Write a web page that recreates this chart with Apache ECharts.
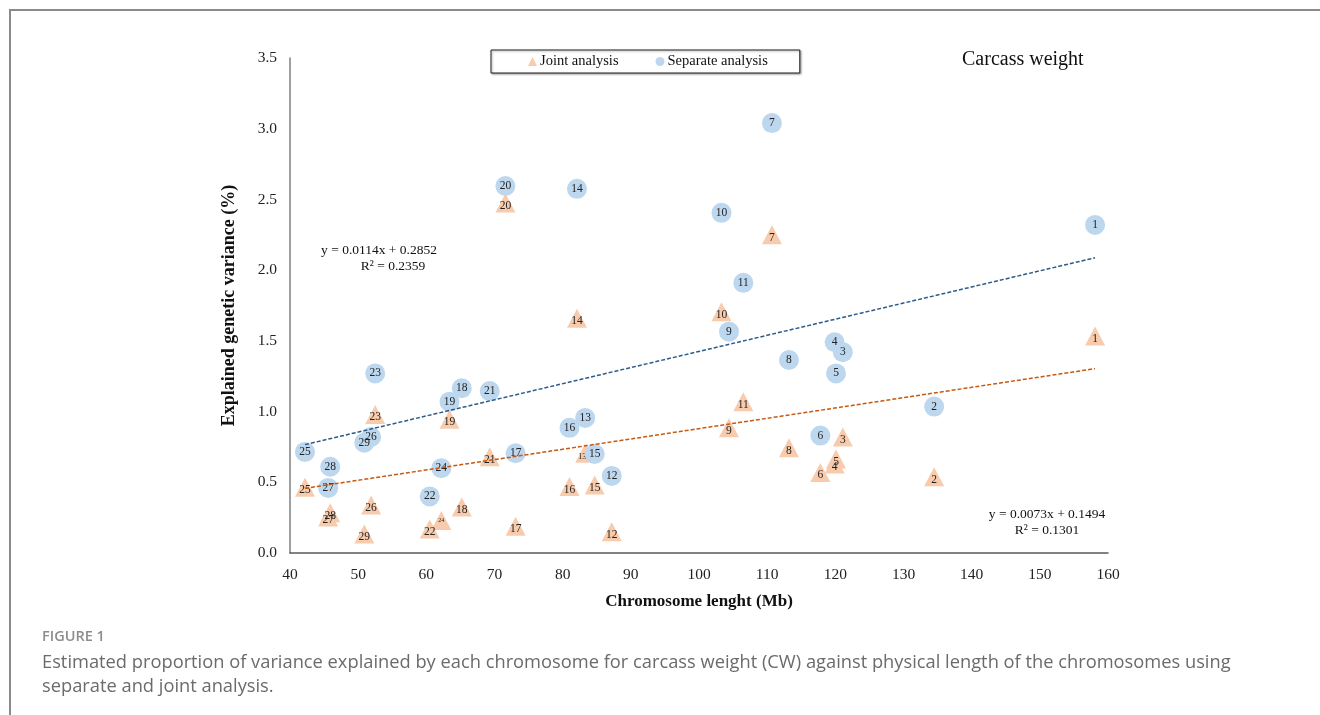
<!DOCTYPE html>
<html>
<head>
<meta charset="utf-8">
<style>
html,body{margin:0;padding:0;background:#fff;}
#chart{width:1320px;height:715px;}
</style>
<script src="https://cdn.jsdelivr.net/npm/echarts@6/dist/echarts.min.js"></script>
</head>
<body>
<div id="chart"></div>
<script>
// ---- data ----
const chromosomes = [1,2,3,4,5,6,7,8,9,10,11,12,13,14,15,16,17,18,19,20,21,22,23,24,25,26,27,28,29];
const lengthMb = [158.1,134.5,121.1,119.9,120.1,117.8,110.7,113.2,104.4,103.3,106.5,87.2,83.3,82.1,84.7,81.0,73.1,65.2,63.4,71.6,69.3,60.5,52.5,62.2,42.2,51.9,45.6,45.9,50.9];
const separateVar = [2.32,1.035,1.42,1.49,1.27,0.83,3.04,1.365,1.565,2.405,1.91,0.545,0.955,2.575,0.70,0.885,0.705,1.165,1.07,2.595,1.145,0.40,1.27,0.60,0.715,0.82,0.46,0.61,0.78];
const jointVar = [1.535,0.54,0.82,0.63,0.665,0.57,2.25,0.745,0.885,1.705,1.07,0.15,0.705,1.66,0.48,0.47,0.19,0.325,0.945,2.475,0.68,0.17,0.98,0.23,0.465,0.34,0.255,0.285,0.135];
const separateFit = {slope: 0.0114, intercept: 0.2852, r2: 0.2359};
const jointFit = {slope: 0.0073, intercept: 0.1494, r2: 0.1301};
const xTicks = [40,50,60,70,80,90,100,110,120,130,140,150,160];
const yTicks = [0.0,0.5,1.0,1.5,2.0,2.5,3.0,3.5];

// ---- build ----
const SERIF = '"Liberation Serif","DejaVu Serif",serif';
const jointLabelStyle = {13: {fontSize: 8, offset:[-3,4]}, 24: {fontSize: 6, offset:[0,0]}};
const sepData = chromosomes.map((c,i)=>({value:[lengthMb[i], separateVar[i]], name:String(c)}));
const jointData = chromosomes.map((c,i)=>{
  const d = {value:[lengthMb[i], jointVar[i]], name:String(c)};
  if (jointLabelStyle[c]) d.label = jointLabelStyle[c];
  return d;
});
const xMin = Math.min(...lengthMb), xMax = Math.max(...lengthMb);
const fitLine = f => [[xMin, f.slope*xMin + f.intercept],[xMax, f.slope*xMax + f.intercept]];

const chart = echarts.init(document.getElementById('chart'), null, {renderer:'canvas'});
chart.setOption({
  animation:false,
  backgroundColor:'#fff',
  grid:{left:290, right:212, top:58, bottom:162, containLabel:false},
  xAxis:{
    type:'value', min:xTicks[0], max:xTicks[xTicks.length-1], interval:10,
    axisLine:{show:true, lineStyle:{color:'#595959', width:1.5}},
    axisTick:{show:false},
    splitLine:{show:false},
    axisLabel:{color:'#222', fontFamily:SERIF, fontSize:15.5, margin:14},
    name:'Chromosome lenght (Mb)', nameLocation:'middle', nameGap:40,
    nameTextStyle:{fontFamily:SERIF, fontWeight:'bold', fontSize:17, color:'#111'}
  },
  yAxis:{
    type:'value', min:yTicks[0], max:yTicks[yTicks.length-1], interval:0.5,
    axisLine:{show:true, lineStyle:{color:'#7f7f7f', width:1.5}},
    axisTick:{show:false},
    splitLine:{show:false},
    axisLabel:{color:'#222', fontFamily:SERIF, fontSize:15.5, margin:13, formatter:v=>v.toFixed(1)},
    name:'Explained genetic variance (%)', nameLocation:'middle', nameGap:52,
    nameTextStyle:{fontFamily:SERIF, fontWeight:'bold', fontSize:18, color:'#111'}
  },
  legend:{
    left:491, top:50,
    data:[{name:'Joint analysis', icon:'triangle'},{name:'Separate analysis', icon:'circle'}],
    itemWidth:9, itemHeight:9, itemGap:37,
    padding:[4,32,4,37],
    borderColor:'#222', borderWidth:1,
    shadowColor:'rgba(0,0,0,0.35)', shadowBlur:2, shadowOffsetX:1, shadowOffsetY:1,
    backgroundColor:'#fff',
    textStyle:{fontFamily:SERIF, fontSize:14.5, color:'#111', padding:[0,0,0,-2]}
  },
  graphic:[
    {type:'rect', x:10, y:10, shape:{x:0,y:0,width:1400,height:800}, style:{fill:'none', stroke:'#8a8a8a', lineWidth:2}, silent:true, z:-10},
    {type:'text', left:962, top:50, style:{text:'Carcass weight', font:'20px '+SERIF, fill:'#111'}},
    {type:'text', x:379, y:250, style:{text:'y = '+separateFit.slope+'x + '+separateFit.intercept, font:'13.5px '+SERIF, fill:'#111', align:'center', verticalAlign:'middle'}},
    {type:'text', x:393, y:266, style:{text:'R² = '+separateFit.r2, font:'13.5px '+SERIF, fill:'#111', align:'center', verticalAlign:'middle'}},
    {type:'text', x:1047, y:514, style:{text:'y = '+jointFit.slope+'x + '+jointFit.intercept, font:'13.5px '+SERIF, fill:'#111', align:'center', verticalAlign:'middle'}},
    {type:'text', x:1047, y:530, style:{text:'R² = '+jointFit.r2, font:'13.5px '+SERIF, fill:'#111', align:'center', verticalAlign:'middle'}},
    {type:'text', left:42, top:629, style:{text:'FIGURE 1', font:'600 14.5px "Open Sans",sans-serif', fill:'#8c8c8c'}},
    {type:'text', left:42, top:651, style:{text:'Estimated proportion of variance explained by each chromosome for carcass weight (CW) against physical length of the chromosomes using\nseparate and joint analysis.', font:'18.3px "Open Sans",sans-serif', fill:'#6b6b6b', lineHeight:24}}
  ],
  series:[
    {
      name:'Joint analysis', type:'scatter', symbol:'triangle', symbolSize:[20,19],
      itemStyle:{color:'#F8CBAD', opacity:1},
      label:{show:true, position:'inside', formatter:p=>p.name, fontFamily:SERIF, fontSize:11.5, color:'#222', offset:[0,3]},
      data:jointData, z:2
    },
    {
      name:'Separate analysis', type:'scatter', symbol:'circle', symbolSize:20,
      itemStyle:{color:'#BDD7EE', opacity:1},
      label:{show:true, position:'inside', formatter:p=>p.name, fontFamily:SERIF, fontSize:11.5, color:'#222'},
      data:sepData, z:3
    },
    {
      type:'line', data:fitLine(separateFit), symbol:'none', silent:true, z:5,
      lineStyle:{color:'#2E5C8A', width:1.5, type:[4,2]}
    },
    {
      type:'line', data:fitLine(jointFit), symbol:'none', silent:true, z:5,
      lineStyle:{color:'#C9580F', width:1.5, type:[4,2]}
    }
  ]
});
</script>
</body>
</html>
